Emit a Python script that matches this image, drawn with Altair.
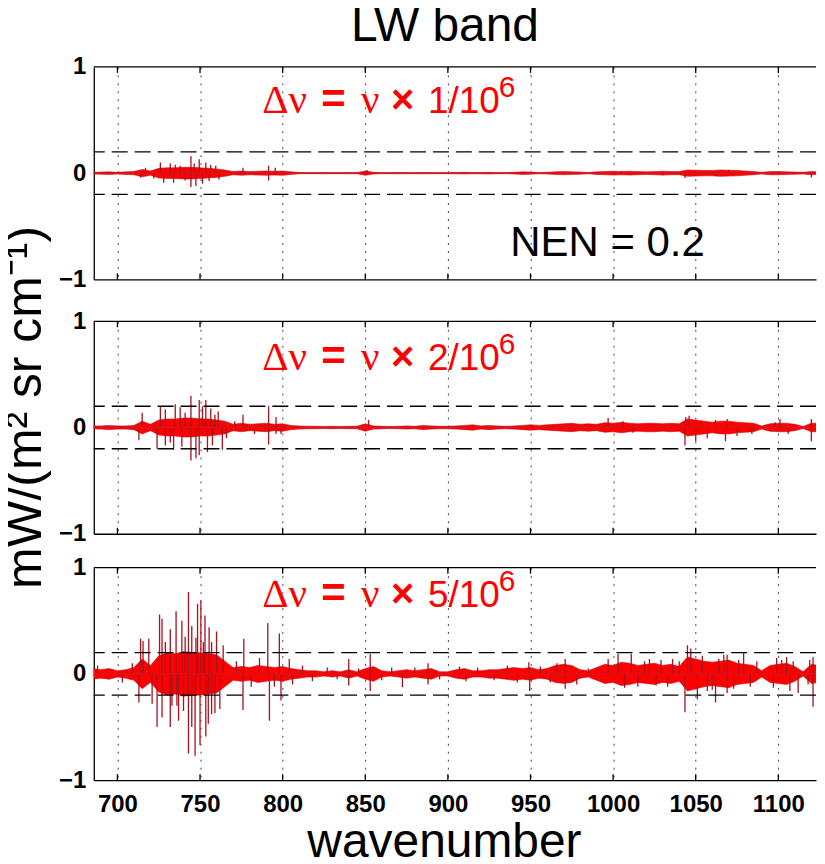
import altair as alt
import pandas as pd

# ---------------- data ----------------
wavenumber = list(range(685, 1126, 5))  # envelope sampling grid, cm-1

# half-width of the dense noise core, per panel (mW/(m2 sr cm-1))
amp_1 = [0.008, 0.01, 0.012, 0.008, 0.012, 0.015, 0.035, 0.02, 0.045, 0.05,
         0.05, 0.055, 0.055, 0.05, 0.045, 0.04, 0.03, 0.015, 0.02, 0.015,
         0.018, 0.02, 0.018, 0.02, 0.012, 0.006, 0.005, 0.005, 0.006, 0.005,
         0.005, 0.006, 0.005, 0.02, 0.008, 0.005, 0.005, 0.006, 0.005, 0.005,
         0.006, 0.005, 0.005, 0.005, 0.006, 0.008, 0.005, 0.006, 0.008, 0.005,
         0.005, 0.008, 0.012, 0.01, 0.006, 0.008, 0.012, 0.015, 0.012, 0.01,
         0.006, 0.012, 0.015, 0.018, 0.015, 0.018, 0.015, 0.012, 0.015, 0.018,
         0.015, 0.015, 0.03, 0.028, 0.025, 0.025, 0.03, 0.028, 0.025, 0.02,
         0.015, 0.008, 0.015, 0.015, 0.012, 0.01, 0.008, 0.015, 0.012]
amp_2 = [0.015, 0.015, 0.02, 0.015, 0.015, 0.02, 0.06, 0.03, 0.07, 0.08,
         0.08, 0.09, 0.09, 0.08, 0.08, 0.07, 0.06, 0.03, 0.04, 0.03,
         0.035, 0.04, 0.03, 0.035, 0.02, 0.015, 0.012, 0.012, 0.01, 0.012,
         0.01, 0.012, 0.012, 0.035, 0.015, 0.012, 0.01, 0.012, 0.015, 0.012,
         0.02, 0.015, 0.012, 0.012, 0.015, 0.02, 0.025, 0.015, 0.02, 0.015,
         0.012, 0.015, 0.02, 0.025, 0.02, 0.025, 0.03, 0.035, 0.04, 0.03,
         0.035, 0.03, 0.045, 0.04, 0.05, 0.04, 0.035, 0.04, 0.04, 0.035,
         0.04, 0.035, 0.08, 0.07, 0.06, 0.05, 0.06, 0.06, 0.05, 0.045,
         0.04, 0.015, 0.035, 0.04, 0.04, 0.03, 0.01, 0.04, 0.04]
amp_5 = [0.05, 0.04, 0.05, 0.03, 0.04, 0.06, 0.14, 0.08, 0.17, 0.20,
         0.19, 0.21, 0.20, 0.20, 0.19, 0.18, 0.12, 0.06, 0.07, 0.06,
         0.08, 0.07, 0.06, 0.07, 0.05, 0.04, 0.03, 0.03, 0.02, 0.03,
         0.02, 0.04, 0.02, 0.05, 0.07, 0.03, 0.02, 0.03, 0.04, 0.03,
         0.04, 0.05, 0.02, 0.02, 0.04, 0.05, 0.03, 0.03, 0.04, 0.04,
         0.05, 0.06, 0.05, 0.06, 0.04, 0.05, 0.08, 0.09, 0.08, 0.04,
         0.03, 0.06, 0.09, 0.08, 0.11, 0.10, 0.08, 0.09, 0.10, 0.08,
         0.09, 0.07, 0.16, 0.14, 0.12, 0.11, 0.12, 0.13, 0.10, 0.09,
         0.08, 0.03, 0.08, 0.09, 0.10, 0.07, 0.02, 0.09, 0.08]

# isolated spikes (wavenumber, value)
spikes_1 = [(717, 0.05), (726, 0.10), (732, 0.09), (735, 0.08), (738, 0.07),
            (744.5, 0.16), (746.5, 0.09), (749.5, 0.13), (753.5, 0.10),
            (756.5, 0.08), (759.5, 0.07), (776, 0.05), (791.5, 0.07),
            (795.5, 0.05), (851, 0.03), (714, -0.04), (722, -0.05),
            (728, -0.09), (734, -0.09), (741, -0.07), (744.5, -0.13),
            (747.5, -0.12), (751.5, -0.10), (755.5, -0.075), (761.5, -0.06),
            (791.5, -0.07), (1005, 0.02), (1030, -0.02), (1043.5, -0.045),
            (1050, 0.03), (1062, -0.03), (1070, 0.03), (1120, -0.04)]
spikes_2 = [(715, 0.14), (726, 0.20), (729, 0.17), (735, 0.22), (738, 0.19),
            (741, 0.14), (744.5, 0.30), (749.5, 0.26), (751.5, 0.20),
            (753.5, 0.26), (756.5, 0.18), (759, 0.12), (761, 0.15),
            (771, 0.06), (776, 0.12), (791.5, 0.20), (796, 0.10), (852, 0.07),
            (997, 0.09), (1006, 0.06), (1044, 0.10), (1046, 0.11),
            (1062, 0.07), (1069, 0.08), (1098, 0.05), (1101, 0.08),
            (1120, 0.08), (713, -0.12), (724, -0.20), (729, -0.17),
            (732, -0.14), (734, -0.21), (739, -0.18), (744.5, -0.31),
            (747.5, -0.29), (749.5, -0.26), (754.5, -0.23), (757.5, -0.17),
            (763.5, -0.21), (766, -0.10), (783, -0.06), (791.5, -0.16),
            (796, -0.06), (799, -0.06), (1012, -0.05), (1043.5, -0.17),
            (1050, -0.13), (1057, -0.10), (1068, -0.13), (1075, -0.08),
            (1084, -0.06), (1106, -0.06), (1120, -0.13)]
spikes_5 = [(688, 0.08), (709, 0.10), (714, 0.33), (715.5, 0.31), (719, 0.33),
            (725.5, 0.56), (727, 0.52), (729, 0.30), (732, 0.42),
            (735.5, 0.59), (739, 0.50), (741, 0.35), (743, 0.77), (745, 0.45),
            (747.5, 0.34), (748.5, 0.66), (750.5, 0.69), (752, 0.30),
            (753, 0.55), (755.5, 0.44), (757, 0.30), (760, 0.40), (764, 0.27),
            (772, 0.12), (776.5, 0.33), (786, 0.15), (791, 0.48), (798, 0.38),
            (804, 0.14), (812, 0.08), (827, 0.06), (840, 0.14), (846, 0.05),
            (853, 0.19), (866, 0.06), (880, 0.06), (888, 0.10), (907, 0.07),
            (918, 0.06), (936, 0.08), (949, 0.11), (956, 0.07), (966, 0.10),
            (971, 0.14), (985, 0.05), (997, 0.14), (1003, 0.19), (1011, 0.19),
            (1019, 0.12), (1022, 0.14), (1029, 0.13), (1036, 0.14),
            (1040, 0.12), (1045, 0.27), (1047, 0.24), (1054, 0.17),
            (1064, 0.14), (1067, 0.18), (1069, 0.18), (1076, 0.13),
            (1079, 0.20), (1087, 0.12), (1099, 0.15), (1102, 0.13),
            (1105, 0.16), (1109, 0.12), (1119, 0.13), (1121, 0.16),
            (703, -0.08), (713, -0.27), (721, -0.28), (724, -0.50),
            (727, -0.41), (732, -0.50), (733, -0.30), (736, -0.30),
            (737, -0.44), (740, -0.35), (743, -0.75), (745, -0.50),
            (747, -0.77), (750, -0.67), (753.5, -0.59), (755, -0.47),
            (757, -0.38), (759, -0.37), (762, -0.33), (776, -0.34),
            (781, -0.12), (792, -0.44), (795, -0.12), (799, -0.25),
            (806, -0.10), (818, -0.07), (833, -0.05), (840, -0.11),
            (853, -0.16), (860, -0.06), (872.5, -0.125), (888, -0.10),
            (895, -0.05), (911, -0.07), (928, -0.06), (942, -0.08),
            (949.5, -0.16), (962, -0.08), (971, -0.14), (978, -0.10),
            (1007, -0.13), (1015, -0.12), (1026, -0.11), (1033, -0.12),
            (1043.5, -0.36), (1051, -0.24), (1057, -0.16), (1060, -0.15),
            (1062, -0.27), (1069, -0.18), (1073, -0.14), (1083, -0.12),
            (1097, -0.13), (1107, -0.16), (1112, -0.18), (1118, -0.10),
            (1121, -0.31)]

x_ticks = [700, 750, 800, 850, 900, 950, 1000, 1050, 1100]
y_ticks = [-1, 0, 1]
nen_levels = [0.2, -0.2]
nen_label = "NEN = 0.2"
factors = ["1", "2", "5"]
title_text = "LW band"
x_title = "wavenumber"
y_title = "mW/(m\u00b2 sr cm\u207b\u00b9)"

# ---------------- styling ----------------
SANS = "Liberation Sans"
SERIF = "Liberation Serif"
W, H = 724, 213
RED = "#ff0000"

xscale = alt.Scale(domain=[685.7, 1122.8], nice=False, zero=False)
yscale = alt.Scale(domain=[-1, 1], nice=False, zero=False)

Y_LABELS = ("datum.value < 0 ? '\u2212' + toString(abs(datum.value)) "
            ": toString(datum.value)")


def x_axis(bottom):
    common = dict(values=x_ticks, format="d", grid=True, gridDash=[2, 6],
                  gridColor="#333333", gridWidth=1, gridOpacity=0.9,
                  ticks=False, tickSize=0,
                  domain=True, domainColor="black", domainWidth=1.3)
    if bottom:
        return alt.Axis(labels=True, labelFont=SANS, labelFontSize=24,
                        labelFontWeight="bold", labelColor="black", labelPadding=12,
                        labelOverlap=False,
                        title=x_title, titleFont=SANS, titleFontSize=48,
                        titleFontWeight="normal", titleColor="black",
                        titleX=351, titleY=77, titleBaseline="alphabetic",
                        titleAlign="center", **common)
    return alt.Axis(labels=False, title=None, **common)


def y_axis(with_title):
    common = dict(values=y_ticks, labelExpr=Y_LABELS, labelOverlap=False,
                  grid=False, ticks=False, tickSize=0,
                  domain=True, domainColor="black", domainWidth=1.3,
                  labelFont=SANS, labelFontSize=24, labelFontWeight="bold",
                  labelColor="black", labelPadding=8)
    if with_title:
        return alt.Axis(title=y_title, titleFont=SANS, titleFontSize=50,
                        titleFontWeight="normal", titleColor="black",
                        titleX=-53, titleY=86, titleAngle=270,
                        titleBaseline="alphabetic", titleAlign="center", **common)
    return alt.Axis(title=None, **common)


def panel(amp, spikes, factor, ann_y, bottom=False, ytitle=False, nen=False):
    xa = x_axis(bottom)
    ya = y_axis(ytitle)

    def X(f):
        return alt.X(f"{f}:Q", scale=xscale, axis=xa)

    def Y(f):
        return alt.Y(f"{f}:Q", scale=yscale, axis=ya)

    core = pd.DataFrame({"wn": wavenumber, "lo": [-a for a in amp], "hi": amp})
    sp = pd.DataFrame(spikes, columns=["wn", "val"])

    layers = []
    layers.append(alt.Chart(core).mark_area(color=RED, stroke="#c8101c",
                                            strokeWidth=0.6, clip=True)
                  .encode(x=X("wn"), y=Y("lo"), y2="hi"))
    layers.append(alt.Chart(sp).mark_rule(color="#a8121e", strokeWidth=1.3, clip=True)
                  .encode(x=X("wn"), y=Y("val"), y2=alt.datum(0)))
    layers.append(alt.Chart(pd.DataFrame({"v": [0]}))
                  .mark_rule(color="#d4161e", strokeWidth=1.4).encode(y=Y("v")))
    layers.append(alt.Chart(pd.DataFrame({"v": nen_levels}))
                  .mark_rule(color="black", strokeDash=[16, 7], strokeWidth=1.3)
                  .encode(y=Y("v")))
    layers.append(alt.Chart(pd.DataFrame({"v": [1]}))
                  .mark_rule(color="black", strokeWidth=1.3).encode(y=Y("v")))
    tdf = pd.DataFrame({"t": x_ticks})
    layers.append(alt.Chart(tdf).mark_rule(color="black", strokeWidth=1.3)
                  .encode(x=X("t"), y=alt.value(0), y2=alt.value(6)))
    layers.append(alt.Chart(tdf).mark_rule(color="black", strokeWidth=1.3)
                  .encode(x=X("t"), y=alt.value(H), y2=alt.value(H - 6)))

    # annotation  "Δν = ν × f/10^6"
    pieces = [("\u0394\u03bd", SERIF, 41, "normal", 0, 0),
              ("=", SANS, 42, "bold", 59, 0),
              ("\u03bd", SERIF, 41, "normal", 99, 0),
              ("\u00d7", SANS, 40, "bold", 129, 0),
              (factor + "/10", SANS, 37, "normal", 166, 0),
              ("6", SANS, 30, "normal", 237, -16)]
    for label, font, size, weight, dx, dy in pieces:
        df = pd.DataFrame({"label": [label], "ax": [787.7], "ay": [ann_y]})
        layers.append(alt.Chart(df).mark_text(font=font, fontSize=size, color=RED,
                                              fontWeight=weight,
                                              align="left", baseline="alphabetic",
                                              dx=dx, dy=dy)
                      .encode(x=X("ax"), y=Y("ay"), text="label:N"))
    if nen:
        df = pd.DataFrame({"label": [nen_label], "ax": [937.8], "ay": [-0.781]})
        layers.append(alt.Chart(df).mark_text(font=SANS, fontSize=42, color="black",
                                              align="left", baseline="alphabetic")
                      .encode(x=X("ax"), y=Y("ay"), text="label:N"))
    return alt.layer(*layers).properties(width=W, height=H)


p1 = panel(amp_1, spikes_1, factors[0], 0.565, nen=True).properties(
    title=alt.TitleParams(title_text, font=SANS, fontSize=48, fontWeight="normal",
                          color="black", anchor="middle", frame="group", dx=-10,
                          offset=4))
p2 = panel(amp_2, spikes_2, factors[1], 0.545, ytitle=True)
p3 = panel(amp_5, spikes_5, factors[2], 0.63, bottom=True)

inner = alt.vconcat(p2, p3, spacing=34, bounds="flush")
chart = (alt.vconcat(p1, inner, spacing=42, bounds="flush")
         .properties(padding={"left": -8, "top": -6, "right": 0, "bottom": -10},
                     background="white")
         .configure_view(strokeWidth=0))

chart.save("out.html", embed_options={"renderer": "svg", "actions": False})
